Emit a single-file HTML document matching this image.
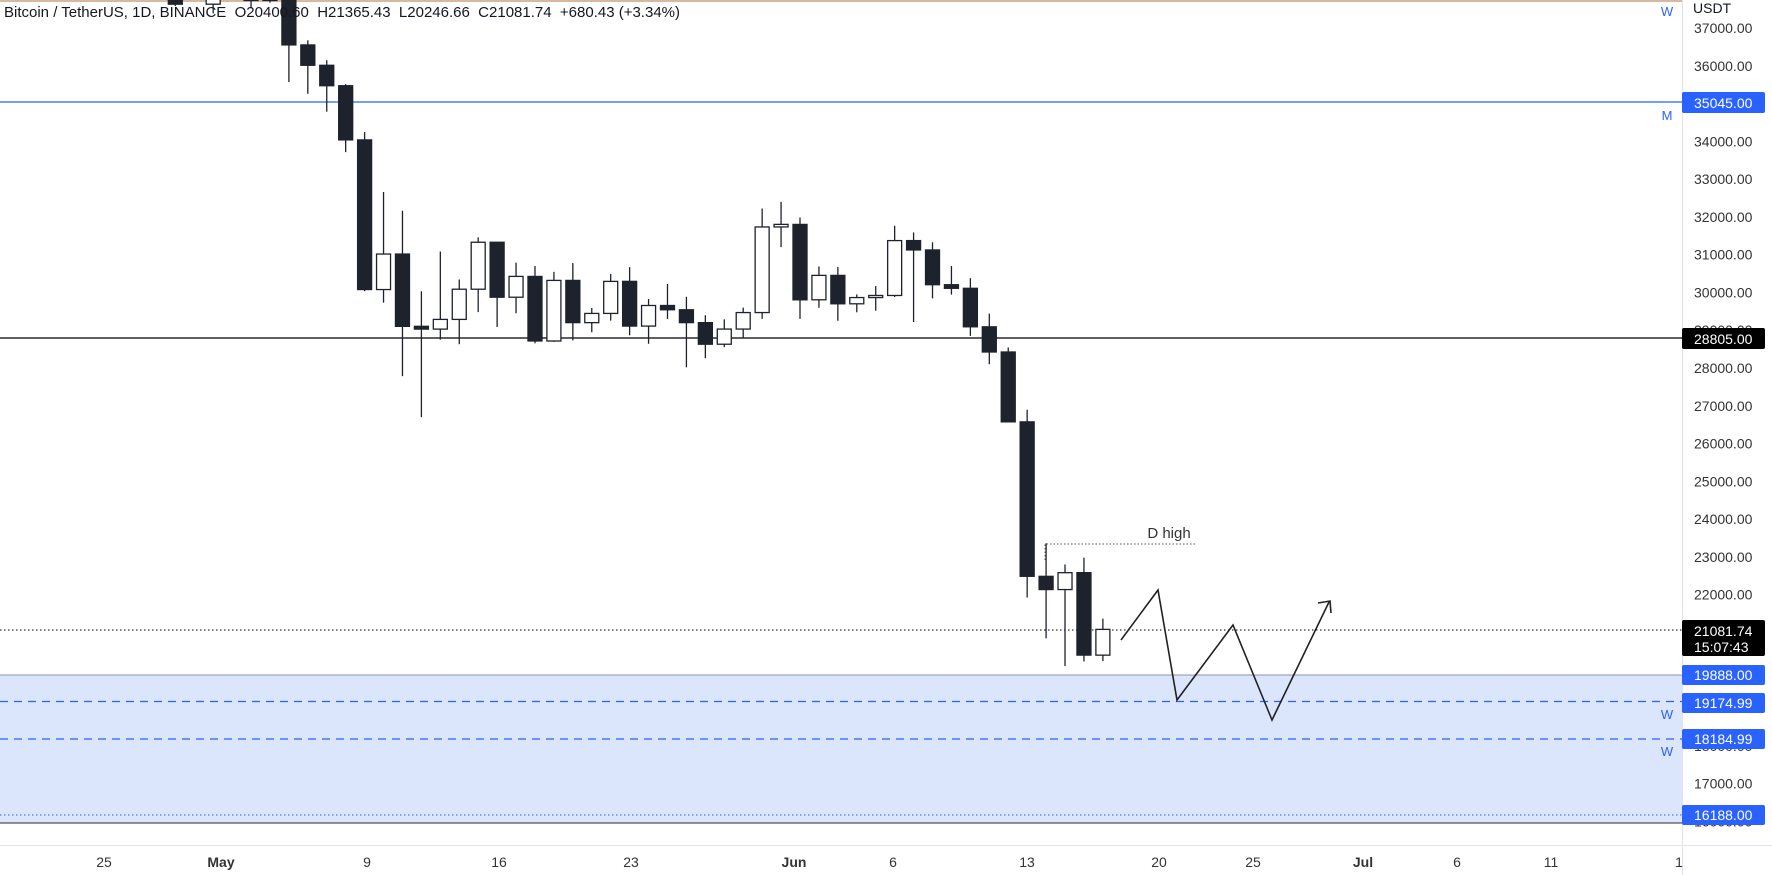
<!DOCTYPE html>
<html><head><meta charset="utf-8"><style>
html,body{margin:0;padding:0;background:#fff;}
svg{display:block;font-family:"Liberation Sans",Arial,sans-serif;}
</style></head><body>
<svg id="c" width="1772" height="875" viewBox="0 0 1772 875" xmlns="http://www.w3.org/2000/svg">
<rect width="1772" height="875" fill="#fff"/>
<rect x="0" y="675" width="1682" height="148" fill="#dbe5fc"/>
<line x1="0" y1="675" x2="1682" y2="675" stroke="#8794b0" stroke-width="1"/>
<line x1="0" y1="701.5" x2="1682" y2="701.5" stroke="#2962ff" stroke-width="1.2" stroke-dasharray="8,6"/>
<line x1="0" y1="739" x2="1682" y2="739" stroke="#2962ff" stroke-width="1.2" stroke-dasharray="8,6"/>
<line x1="0" y1="815" x2="1682" y2="815" stroke="#2962ff" stroke-width="1" stroke-dasharray="1.5,2.5"/>
<line x1="0" y1="823" x2="1682" y2="823" stroke="#555" stroke-width="1.3"/>
<line x1="0" y1="1" x2="1682" y2="1" stroke="#c9a27e" stroke-width="1.5"/>
<line x1="0" y1="102" x2="1682" y2="102" stroke="#2962ff" stroke-width="1.2"/>
<line x1="0" y1="338" x2="1682" y2="338" stroke="#000" stroke-width="1.3"/>
<line x1="0" y1="630" x2="1682" y2="630" stroke="#000" stroke-width="1" stroke-dasharray="1.5,2.5"/>
<g id="candles"></g>
<polyline points="1045,560 1045,544 1195,544" fill="none" stroke="#555" stroke-width="1" stroke-dasharray="1.5,2"/>
<text x="1169" y="538" font-size="15" fill="#333" text-anchor="middle">D high</text>
<polyline points="1121,640 1158,590 1177,700 1233,625 1272,720 1329,602" fill="none" stroke="#222" stroke-width="1.6"/>
<polyline points="1318,603 1330,601 1331,613" fill="none" stroke="#222" stroke-width="1.6"/>
<text x="4" y="17" font-size="15" fill="#131722" style="white-space:pre">Bitcoin / TetherUS, 1D, BINANCE  O20400.60  H21365.43  L20246.66  C21081.74  +680.43 (+3.34%)</text>
<rect x="1682" y="0" width="90" height="875" fill="#fff"/>
<line x1="1682.5" y1="0" x2="1682.5" y2="875" stroke="#e0e3eb"/>
<line x1="0" y1="845.5" x2="1772" y2="845.5" stroke="#e0e3eb"/>
<text x="1693" y="13" font-size="14" fill="#131722">USDT</text>
<g id="ticks" font-size="14" fill="#333"></g>
<g font-size="14" fill="#fff">
<rect x="1682" y="92" width="83" height="21" rx="2" fill="#2962ff"/><text x="1694" y="108">35045.00</text>
<rect x="1682" y="328" width="83" height="21" rx="2" fill="#000"/><text x="1694" y="344">28805.00</text>
<rect x="1682" y="620" width="83" height="36" rx="2" fill="#000"/><text x="1694" y="636">21081.74</text><text x="1694" y="652">15:07:43</text>
<rect x="1682" y="665" width="83" height="20" rx="2" fill="#2962ff"/><text x="1694" y="680">19888.00</text>
<rect x="1682" y="693" width="83" height="20" rx="2" fill="#2962ff"/><text x="1694" y="708">19174.99</text>
<rect x="1682" y="729" width="83" height="20" rx="2" fill="#2962ff"/><text x="1694" y="744">18184.99</text>
<rect x="1682" y="805" width="83" height="20" rx="2" fill="#2962ff"/><text x="1694" y="820">16188.00</text>
</g>
<g font-size="13" fill="#2962ff" text-anchor="middle">
<text x="1667" y="16">W</text><text x="1667" y="120">M</text>
<text x="1667" y="719">W</text><text x="1667" y="756">W</text>
</g>
<g font-size="14" fill="#333" text-anchor="middle">
<text x="104" y="867">25</text><text x="221" y="867" font-weight="bold">May</text>
<text x="367" y="867">9</text><text x="499" y="867">16</text><text x="631" y="867">23</text>
<text x="794" y="867" font-weight="bold">Jun</text><text x="893" y="867">6</text>
<text x="1027" y="867">13</text><text x="1159" y="867">20</text><text x="1253" y="867">25</text>
<text x="1363" y="867" font-weight="bold">Jul</text><text x="1457" y="867">6</text>
<text x="1551" y="867">11</text><text x="1679" y="867">1</text>
</g>
</svg>
<script>
var Y=function(p){return 28+(37000-p)*0.03778;};
var X=function(d){return 800+18.93*d;};
var D=[
[-36,40426,41000,37900,38112],[-35,38112,39460,37880,39235],[-34,39235,40400,38880,39742],[-33,39742,39920,38180,38596],[-32,38596,38795,37580,37630],
[-30,37630,38675,37386,38468],[-29,38468,39167,38053,38525],[-28,38525,38660,37518,37728],[-27,37728,40023,37671,39690],
[-26,39690,39845,35571,36552],[-25,36552,36675,35258,36013],[-24,36013,36146,34785,35472],[-23,35472,35514,33714,34038],
[-22,34038,34243,30033,30077],[-21,30077,32659,29730,31017],[-20,31017,32162,27785,29103],[-19,29104,30033,26700,29030],
[-18,29030,31084,28751,29287],[-17,29287,30343,28630,30086],[-16,30086,31460,29480,31329],[-15,31329,31329,29087,29874],
[-14,29874,30788,29450,30425],[-13,30424,30700,28654,28716],[-12,28715,30545,28693,30319],[-11,30319,30777,28730,29201],
[-10,29201,29588,28947,29445],[-9,29445,30487,29255,30293],[-8,30294,30670,28866,29110],[-7,29110,29827,28642,29655],
[-6,29655,30223,29294,29542],[-5,29542,29886,28019,29201],[-4,29201,29397,28261,28630],[-3,28630,29287,28552,29031],
[-2,29031,29600,28810,29468],[-1,29468,32222,29300,31734],[0,31734,32400,31200,31802],[1,31801,31982,29301,29805],
[2,29806,30689,29594,30452],[3,30452,30676,29250,29700],[4,29700,29948,29475,29865],[5,29865,30168,29516,29920],
[6,29920,31765,29880,31373],[7,31373,31589,29218,31125],[8,31125,31327,29843,30205],[9,30205,30700,29944,30110],
[10,30110,30377,28850,29091],[11,29091,29440,28100,28424],[12,28424,28544,26560,26575],[13,26575,26895,21925,22487],
[14,22486,23362,20846,22136],[15,22136,22800,20111,22583],[16,22584,22980,20232,20401],[17,20400,21365,20246,21082]];
var s="";
D.forEach(function(c){var x=X(c[0]-1),o=Y(c[1]),h=Y(c[2]),l=Y(c[3]),cl=Y(c[4]);var up=c[4]>=c[1];
var t=Math.min(o,cl),b=Math.max(o,cl);if(b-t<1.5)b=t+1.5;
s+='<line x1="'+x+'" y1="'+h+'" x2="'+x+'" y2="'+l+'" stroke="#1e222d" stroke-width="1.3"/>';
s+='<rect x="'+(x-7)+'" y="'+t+'" width="14" height="'+(b-t)+'" fill="'+(up?'#fff':'#1e222d')+'" stroke="#1e222d" stroke-width="1.3"/>';});
document.getElementById("candles").innerHTML=s;
var t="";for(var p=37000;p>=16000;p-=1000){t+='<text x="1694" y="'+(Y(p)+5)+'">'+p+'.00</text>';}
document.getElementById("ticks").innerHTML=t;
</script>
</body></html>
